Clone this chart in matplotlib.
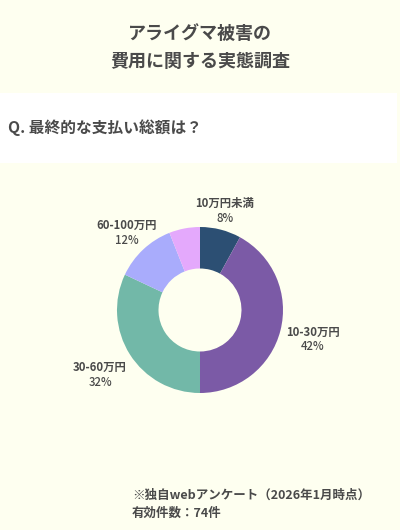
import matplotlib
matplotlib.use("Agg")
import matplotlib.pyplot as plt
from matplotlib.patches import Rectangle

plt.rcParams['font.family'] = ['Noto Sans CJK JP', 'DejaVu Sans']

# data
labels = ["10万円未満", "10-30万円", "30-60万円", "60-100万円", ""]
shares = [8, 42, 32, 12, 6]
pct_text = ["8%", "42%", "32%", "12%", ""]
colors = ["#2c4f73", "#7b5aa6", "#72b8a8", "#a9acfc", "#e4a9fc"]

bg = "#fefff0"
txt = "#4a4a4a"

fig = plt.figure(figsize=(4, 5.3), dpi=100)
fig.patch.set_facecolor(bg)

# white band behind the question
fig.patches.append(Rectangle((0, 1 - 163/530), 397/400, 70/530,
                             transform=fig.transFigure, facecolor="white",
                             edgecolor="none", zorder=0))

fig.text(0.5, 1 - 33/530, "アライグマ被害の", ha="center", va="center",
         fontsize=13, fontweight="bold", color=txt)
fig.text(0.5, 1 - 61/530, "費用に関する実態調査", ha="center", va="center",
         fontsize=13, fontweight="bold", color=txt)
fig.text(8/400, 1 - 128/530, "Q. 最終的な支払い総額は？", ha="left", va="center",
         fontsize=11.3, fontweight="bold", color=txt)

# donut: center (200, 310), radius ~83 px
r = 83
ax = fig.add_axes([(200 - r)/400, 1 - (310 + r)/530, 2*r/400, 2*r/530])
ax.pie(shares, colors=colors, startangle=90, counterclock=False,
       wedgeprops=dict(width=0.5, edgecolor="none"))
ax.set_xlim(-1, 1)
ax.set_ylim(-1, 1)
ax.set_aspect("equal")
ax.axis("off")

# slice labels (pixel positions)
label_pos = [(225, 203), (313, 332), (100, 367), (127, 225)]
for i, (x, y) in enumerate(label_pos):
    fig.text(x/400, 1 - y/530, labels[i], ha="center", va="center",
             fontsize=8.2, fontweight="bold", color=txt)
    fig.text(x/400, 1 - (y + 15)/530, pct_text[i], ha="center", va="center",
             fontsize=8.2, fontweight="medium", color=txt)

fig.text(132/400, 1 - 495/530, "※独自webアンケート（2026年1月時点）", ha="left",
         va="center", fontsize=9, fontweight="bold", color=txt)
fig.text(132/400, 1 - 513/530, "有効件数：74件", ha="left", va="center",
         fontsize=9, fontweight="bold", color=txt)

fig.savefig("out.png", dpi=100, facecolor=bg)
